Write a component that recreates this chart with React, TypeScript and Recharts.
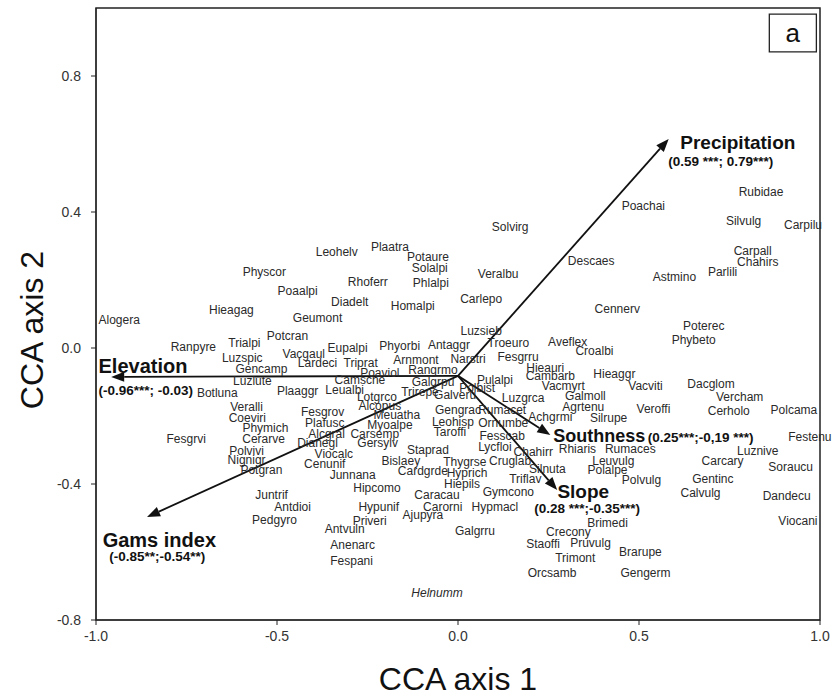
import React from 'react'
import {
  ScatterChart,
  Scatter,
  XAxis,
  YAxis,
  ReferenceArea,
  ReferenceLine,
} from 'recharts'

// species scores (CCA axis 1, CCA axis 2)
const speciesNames = [
  'Physcor', 'Poaalpi', 'Hieagag', 'Geumont', 'Alogera', 'Potcran', 'Ranpyre', 'Trialpi',
  'Luzspic', 'Vacgaul', 'Lardeci', 'Gencamp', 'Luzlute', 'Botluna', 'Plaaggr', 'Leohelv',
  'Plaatra', 'Potaure', 'Solalpi', 'Rhoferr', 'Phlalpi', 'Diadelt', 'Homalpi', 'Eupalpi',
  'Phyorbi', 'Antaggr', 'Triprat', 'Arnmont', 'Poaviol', 'Rangrmo', 'Camsche', 'Galgrpu',
  'Leualbi', 'Lotgrco', 'Trirepe', 'Fesgrov', 'Alcopus', 'Meuatha', 'Plafusc', 'Myoalpe',
  'Alcgral', 'Carsemp', 'Dianegl', 'Gersylv', 'Staprad', 'Viocalc', 'Bislaey', 'Cenunif',
  'Cardgrde', 'Junnana', 'Hipcomo', 'Caracau', 'Hypunif', 'Carorni', 'Ajupyra', 'Juntrif',
  'Antdioi', 'Veralli', 'Coeviri', 'Phymich', 'Fesgrvi', 'Cerarve', 'Polvivi', 'Nignigr',
  'Potgran', 'Pedgyro', 'Priveri', 'Antvuln', 'Anenarc', 'Fespani', 'Solvirg', 'Descaes',
  'Veralbu', 'Carlepo', 'Cennerv', 'Luzsieb', 'Troeuro', 'Aveflex', 'Croalbi', 'Narstri',
  'Fesgrru', 'Hieauri', 'Hieaggr', 'Cambarb', 'Pulalpi', 'Vacmyrt', 'Polbist', 'Galveru',
  'Luzgrca', 'Galmoll', 'Gengrac', 'Rumacet', 'Agrtenu', 'Achgrmi', 'Silrupe', 'Leohisp',
  'Ornumbe', 'Taroffi', 'Fesscab', 'Lycfloi', 'Chahirr', 'Rhiaris', 'Rumaces', 'Thygrse',
  'Cruglab', 'Leuvulg', 'Silnuta', 'Polalpe', 'Hyprich', 'Hiepils', 'Triflav', 'Polvulg',
  'Gymcono', 'Hypmacl', 'Brimedi', 'Galgrru', 'Crecony', 'Staoffi', 'Pruvulg', 'Brarupe',
  'Trimont', 'Orcsamb', 'Gengerm', 'Rubidae', 'Poachai', 'Silvulg', 'Carpilu', 'Carpall',
  'Chahirs', 'Parlili', 'Astmino', 'Poterec', 'Phybeto', 'Vacviti', 'Dacglom', 'Vercham',
  'Veroffi', 'Cerholo', 'Polcama', 'Festenu', 'Luznive', 'Carcary', 'Gentinc', 'Calvulg',
  'Soraucu', 'Dandecu', 'Viocani', 'Helnumm',
]
const axis1 = [
  -0.535, -0.443, -0.626, -0.388, -0.936, -0.471, -0.731, -0.590,
  -0.596, -0.426, -0.388, -0.543, -0.568, -0.665, -0.443, -0.335,
  -0.188, -0.083, -0.078, -0.249, -0.075, -0.299, -0.125, -0.305,
  -0.161, -0.025, -0.269, -0.116, -0.216, -0.069, -0.271, -0.069,
  -0.313, -0.224, -0.105, -0.374, -0.216, -0.169, -0.368, -0.188,
  -0.363, -0.230, -0.388, -0.222, -0.083, -0.343, -0.158, -0.368,
  -0.097, -0.291, -0.224, -0.058, -0.219, -0.042, -0.097, -0.515,
  -0.457, -0.584, -0.582, -0.532, -0.751, -0.537, -0.584, -0.584,
  -0.543, -0.507, -0.244, -0.313, -0.291, -0.294, 0.144, 0.368,
  0.111, 0.064, 0.440, 0.064, 0.139, 0.303, 0.377, 0.028,
  0.166, 0.241, 0.432, 0.255, 0.102, 0.291, 0.053, -0.008,
  0.180, 0.352, 0.000, 0.122, 0.346, 0.255, 0.416, -0.014,
  0.125, -0.022, 0.122, 0.102, 0.208, 0.330, 0.476, 0.019,
  0.144, 0.429, 0.247, 0.413, 0.025, 0.011, 0.186, 0.507,
  0.139, 0.102, 0.413, 0.047, 0.305, 0.235, 0.366, 0.504,
  0.324, 0.260, 0.518, 0.837, 0.512, 0.789, 0.953, 0.814,
  0.828, 0.731, 0.598, 0.679, 0.651, 0.518, 0.699, 0.778,
  0.540, 0.748, 0.928, 0.972, 0.828, 0.731, 0.704, 0.670,
  0.919, 0.908, 0.939, -0.058,
]
const axis2 = [
  0.224, 0.168, 0.112, 0.088, 0.082, 0.035, 0.003, 0.015,
  -0.029, -0.018, -0.044, -0.062, -0.097, -0.132, -0.126, 0.282,
  0.297, 0.268, 0.235, 0.194, 0.191, 0.135, 0.124, 0.000,
  0.006, 0.009, -0.044, -0.035, -0.074, -0.065, -0.094, -0.100,
  -0.124, -0.144, -0.129, -0.188, -0.171, -0.197, -0.221, -0.226,
  -0.253, -0.253, -0.279, -0.279, -0.300, -0.312, -0.332, -0.341,
  -0.362, -0.374, -0.412, -0.432, -0.468, -0.468, -0.491, -0.432,
  -0.468, -0.174, -0.206, -0.235, -0.268, -0.268, -0.303, -0.329,
  -0.359, -0.506, -0.509, -0.532, -0.579, -0.626, 0.356, 0.256,
  0.218, 0.144, 0.115, 0.050, 0.015, 0.018, -0.009, -0.032,
  -0.026, -0.059, -0.076, -0.082, -0.094, -0.112, -0.118, -0.138,
  -0.147, -0.141, -0.182, -0.182, -0.174, -0.203, -0.206, -0.218,
  -0.221, -0.247, -0.259, -0.291, -0.306, -0.297, -0.297, -0.335,
  -0.332, -0.332, -0.356, -0.359, -0.368, -0.400, -0.385, -0.388,
  -0.424, -0.468, -0.515, -0.538, -0.541, -0.576, -0.574, -0.600,
  -0.618, -0.662, -0.662, 0.459, 0.418, 0.374, 0.362, 0.285,
  0.253, 0.224, 0.209, 0.065, 0.024, -0.112, -0.106, -0.144,
  -0.179, -0.185, -0.182, -0.262, -0.303, -0.332, -0.385, -0.426,
  -0.350, -0.435, -0.509, -0.721,
]

// environmental vectors: common origin as drawn, arrow tips, label anchors
const vectorOrigin = { x: 0, y: -0.082 }
const vectorNames = ['Elevation', 'Gams index', 'Precipitation', 'Southness', 'Slope']
const vectorScores = ['(-0.96***; -0.03)', '(-0.85**;-0.54**)', '(0.59 ***; 0.79***)', '(0.25***;-0,19 ***)', '(0.28 ***;-0.35***)']
const vectorX = [-0.958, -0.859, 0.582, 0.255, 0.274]
const vectorY = [-0.085, -0.497, 0.615, -0.256, -0.418]
const nameX = [-0.993, -0.825, 0.773, 0.263, 0.346]
const nameY = [-0.053, -0.565, 0.603, -0.259, -0.421]
const scoreX = [-0.993, -0.831, 0.726, 0.524, 0.357]
const scoreY = [-0.124, -0.612, 0.550, -0.262, -0.471]

const xTicks = [-1.0, -0.5, 0.0, 0.5, 1.0]
const yTicks = [-0.8, -0.4, 0.0, 0.4, 0.8]

const species = speciesNames.map((name, i) => ({ name, x: axis1[i], y: axis2[i] }))
const vectorNameData = vectorNames.map((name, i) => ({ name, x: nameX[i], y: nameY[i] }))
const vectorScoreData = vectorScores.map((name, i) => ({ name, x: scoreX[i], y: scoreY[i], key: vectorNames[i] }))

const FONT = 'Arial, "Liberation Sans", Helvetica, sans-serif'
const NARROW = '"Liberation Sans Narrow", "Arial Narrow", Arial, sans-serif'

const nameStyle: Record<string, { size: number; anchor: string }> = {
  Elevation: { size: 20, anchor: 'start' },
  'Gams index': { size: 20, anchor: 'middle' },
  Precipitation: { size: 19, anchor: 'middle' },
  Southness: { size: 18, anchor: 'start' },
  Slope: { size: 19, anchor: 'middle' },
}

const SpeciesLabel = (props: any) => {
  const { cx, cy, payload } = props
  return (
    <text
      x={cx}
      y={cy}
      textAnchor="middle"
      dominantBaseline="central"
      fontFamily={FONT}
      fontSize={12}
      fill="#2a2a2a"
      fontStyle={payload.name === 'Helnumm' ? 'italic' : 'normal'}
    >
      {payload.name}
    </text>
  )
}

const VectorName = (props: any) => {
  const { cx, cy, payload } = props
  const s = nameStyle[payload.name]
  return (
    <text x={cx} y={cy} textAnchor={s.anchor} dominantBaseline="central"
      fontFamily={FONT} fontSize={s.size} fontWeight="bold" fill="#111">
      {payload.name}
    </text>
  )
}

const VectorScore = (props: any) => {
  const { cx, cy, payload } = props
  const anchor = nameStyle[payload.key].anchor
  return (
    <text x={cx} y={cy} textAnchor={anchor} dominantBaseline="central"
      fontFamily={FONT} fontSize={13.5} fontWeight="bold" fill="#111">
      {payload.name}
    </text>
  )
}

const Arrow = (props: any) => {
  const { x1, y1, x2, y2 } = props
  const a = Math.atan2(y2 - y1, x2 - x1)
  const len = 13
  const half = 5
  const bx = x2 - len * Math.cos(a)
  const by = y2 - len * Math.sin(a)
  const px = -Math.sin(a) * half
  const py = Math.cos(a) * half
  return (
    <g>
      <line x1={x1} y1={y1} x2={bx} y2={by} stroke="#111" strokeWidth={1.8} />
      <polygon points={`${x2},${y2} ${bx + px},${by + py} ${bx - px},${by - py}`} fill="#111" />
    </g>
  )
}

const XTitle = (props: any) => {
  const { viewBox } = props
  return (
    <text x={viewBox.x + viewBox.width / 2} y={679} textAnchor="middle" dominantBaseline="central"
      fontFamily={NARROW} fontSize={32} fill="#111">
      CCA axis 1
    </text>
  )
}

const YTitle = (props: any) => {
  const { viewBox } = props
  const y = viewBox.y + viewBox.height / 2 + 16
  return (
    <text transform={`translate(32,${y}) rotate(-90)`} textAnchor="middle" dominantBaseline="central"
      fontFamily={NARROW} fontSize={32} fill="#111">
      CCA axis 2
    </text>
  )
}

export default function App() {
  return (
    <div style={{ position: 'absolute', left: 0, top: 0, background: '#fff' }}>
      <ScatterChart width={836} height={697} margin={{ top: 8, right: 16, left: 36, bottom: 37 }}>
        <XAxis
          type="number"
          dataKey="x"
          domain={[-1, 1]}
          ticks={xTicks}
          tickFormatter={(v: number) => v.toFixed(1)}
          tick={{ fontSize: 14, fill: '#333', fontFamily: FONT }}
          tickSize={5}
          tickMargin={6}
          height={40}
          stroke="#222"
          label={<XTitle />}
        />
        <YAxis
          type="number"
          dataKey="y"
          domain={[-0.8, 1.0]}
          ticks={yTicks}
          tickFormatter={(v: number) => v.toFixed(1)}
          tick={{ fontSize: 14, fill: '#333', fontFamily: FONT }}
          tickSize={5}
          tickMargin={10}
          width={60}
          stroke="#222"
          label={<YTitle />}
        />
        <ReferenceArea x1={-1} x2={1} y1={-0.8} y2={1.0} fill="none" stroke="#222" strokeWidth={1.5} />
        <ReferenceArea x1={0.86} x2={0.99} y1={0.871} y2={0.982} fill="#fff" fillOpacity={1} stroke="#222" strokeWidth={1.3}
          label={{ value: 'a', position: 'center', fontSize: 26, fill: '#111', fontFamily: FONT }} />
        {vectorX.map((vx, i) => (
          <ReferenceLine
            key={vectorNames[i]}
            segment={[vectorOrigin, { x: vx, y: vectorY[i] }]}
            shape={Arrow}
            ifOverflow="visible"
          />
        ))}
        <Scatter data={species} shape={SpeciesLabel} isAnimationActive={false} />
        <Scatter data={vectorNameData} shape={VectorName} isAnimationActive={false} />
        <Scatter data={vectorScoreData} shape={VectorScore} isAnimationActive={false} />
      </ScatterChart>
    </div>
  )
}
